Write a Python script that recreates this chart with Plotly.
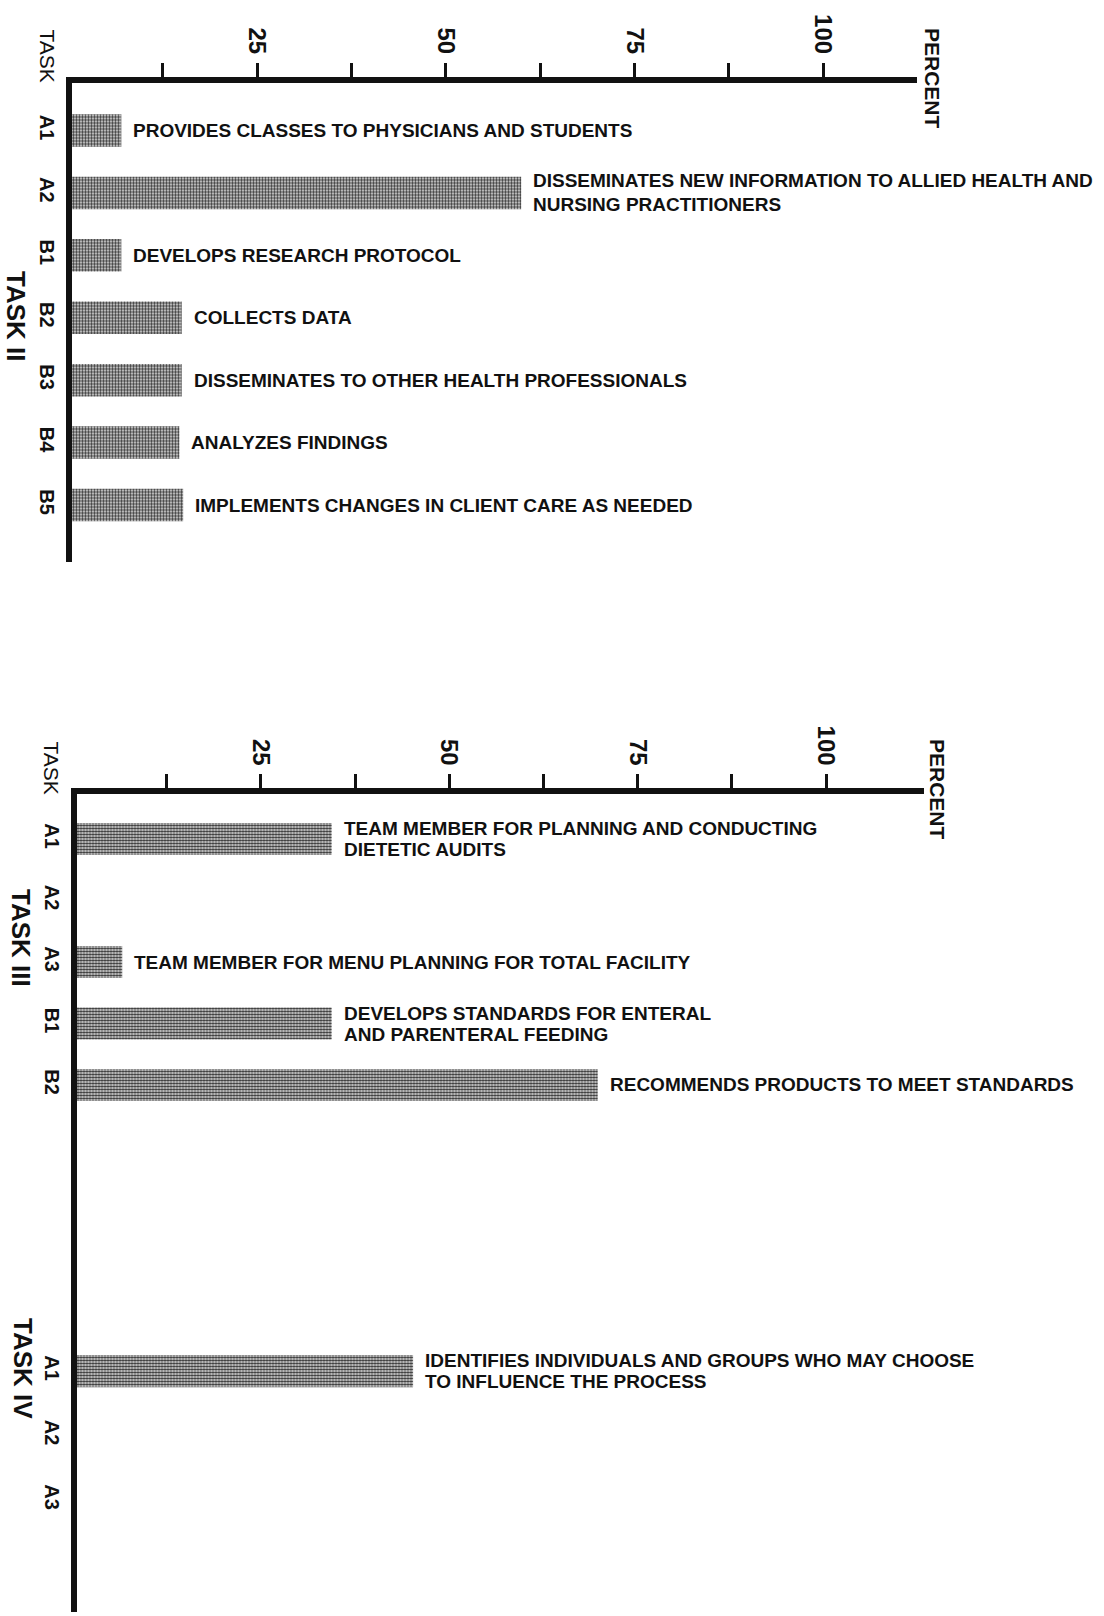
import plotly.graph_objects as go

# ---------------- data ----------------
task2_codes = ["A1", "A2", "B1", "B2", "B3", "B4", "B5"]
task2_values = [7, 60, 7, 15, 15, 14.7, 15.2]
task2_labels = [
    "PROVIDES CLASSES TO PHYSICIANS AND STUDENTS",
    "DISSEMINATES NEW INFORMATION TO ALLIED HEALTH AND\nNURSING PRACTITIONERS",
    "DEVELOPS RESEARCH PROTOCOL",
    "COLLECTS DATA",
    "DISSEMINATES TO OTHER HEALTH PROFESSIONALS",
    "ANALYZES FINDINGS",
    "IMPLEMENTS CHANGES IN CLIENT CARE AS NEEDED",
]

task3_codes = ["A1", "A2", "A3", "B1", "B2"]
task3_values = [34.4, None, 6.6, 34.4, 69.7]
task3_labels = [
    "TEAM MEMBER FOR PLANNING AND CONDUCTING\nDIETETIC AUDITS",
    "",
    "TEAM MEMBER FOR MENU PLANNING FOR TOTAL FACILITY",
    "DEVELOPS STANDARDS FOR ENTERAL\nAND PARENTERAL FEEDING",
    "RECOMMENDS PRODUCTS TO MEET STANDARDS",
]

task4_codes = ["A1", "A2", "A3"]
task4_values = [45.2, None, None]
task4_labels = [
    "IDENTIFIES INDIVIDUALS AND GROUPS WHO MAY CHOOSE\nTO INFLUENCE THE PROCESS",
    "",
    "",
]

tick_vals = [12.5, 25, 37.5, 50, 62.5, 75, 87.5, 100]
tick_text = ["", "25", "", "50", "", "75", "", "100"]

# ---------------- styling ----------------
W, H = 1104, 1616
FONT = "Liberation Sans, Arial, Helvetica, sans-serif"
BLACK = "#111111"

def px_x(p):
    return p / W

def px_y(p):
    return 1 - p / H

bar_pattern = dict(shape=".", size=3, solidity=0.55, fgcolor="#303030",
                   bgcolor="#ececec", fillmode="replace")

fig = go.Figure()

def add_bars(codes, values, xa, ya, width):
    fig.add_trace(go.Bar(
        x=values, y=codes, orientation="h", xaxis=xa, yaxis=ya,
        width=width, base=0,
        marker=dict(color="#ececec", line=dict(width=0), pattern=bar_pattern),
        hoverinfo="skip", showlegend=False,
    ))

add_bars(task2_codes, task2_values, "x", "y", 0.52)
add_bars(task3_codes, task3_values, "x2", "y2", 0.52)
add_bars(task4_codes, task4_values, "x2", "y3", 0.5)

annotations = []

def add_labels(codes, values, labels, xref, yref, lh):
    for c, v, lab in zip(codes, values, labels):
        if v is None or not lab:
            continue
        lines = lab.split("\n")
        n = len(lines)
        for i, ln in enumerate(lines):
            annotations.append(dict(
                x=v, y=c, xref=xref, yref=yref, text=f"<b>{ln}</b>", showarrow=False,
                xanchor="left", yanchor="middle", xshift=10,
                yshift=((n - 1) / 2 - i) * lh,
                font=dict(family=FONT, size=19, color=BLACK),
            ))

add_labels(task2_codes, task2_values, task2_labels, "x", "y", 24)
add_labels(task3_codes, task3_values, task3_labels, "x2", "y2", 21)
add_labels(task4_codes, task4_values, task4_labels, "x2", "y3", 21)

def page_text(text, cx, cy, size, bold=True):
    annotations.append(dict(
        x=px_x(cx), y=px_y(cy), xref="paper", yref="paper",
        text=f"<b>{text}</b>" if bold else text, showarrow=False,
        textangle=90, xanchor="center", yanchor="middle",
        font=dict(family=FONT, size=size, color=BLACK),
    ))

page_text("TASK", 47.5, 56, 21, bold=False)
page_text("PERCENT", 933, 78, 21)
page_text("TASK II", 16, 316, 26)
page_text("TASK", 51.5, 768, 21, bold=False)
page_text("PERCENT", 937, 789, 21)
page_text("TASK III", 21, 938, 26)
page_text("TASK IV", 23, 1368, 26)

def xaxis_cfg(dom, rng, anchor):
    return dict(
        domain=dom, range=rng, anchor=anchor, side="top", automargin=False,
        showline=True, linewidth=6, linecolor=BLACK,
        ticks="outside", ticklen=14, tickwidth=3, tickcolor=BLACK,
        tickvals=tick_vals, ticktext=tick_text, tickangle=90,
        tickfont=dict(family=FONT, size=24, color=BLACK, weight="bold"),
        showgrid=False, zeroline=False, fixedrange=True,
    )

def yaxis_cfg(dom, rng, anchor, cats):
    return dict(
        domain=dom, range=rng, anchor=anchor, type="category", automargin=False,
        categoryorder="array", categoryarray=cats,
        showline=True, linewidth=6, linecolor=BLACK,
        ticks="", tickangle=90, ticklabelstandoff=2,
        tickfont=dict(family=FONT, size=20, color=BLACK, weight="bold"),
        showgrid=False, zeroline=False, fixedrange=True,
    )

# top panel: value 0 at x=68.5px, 7.545 px per percent; plot area starts right of axis line
top_left, top_right = 72.0, 917.3
top_rng = [(top_left - 68.5) / 7.545, (top_right - 68.5) / 7.545]
# bottom panel: value 0 at x=72.5px, 7.535 px per percent
bot_left, bot_right = 76.5, 924.0
bot_rng = [(bot_left - 72.5) / 7.535, (bot_right - 72.5) / 7.535]

fig.update_layout(
    width=W, height=H,
    margin=dict(l=0, r=0, t=0, b=0, pad=0),
    paper_bgcolor="white", plot_bgcolor="white",
    xaxis=xaxis_cfg([top_left / W, top_right / W], top_rng, "y"),
    yaxis=yaxis_cfg([px_y(562), px_y(82.5)], [6.913, -0.769], "x", task2_codes),
    xaxis2=xaxis_cfg([bot_left / W, bot_right / W], bot_rng, "y2"),
    yaxis2=yaxis_cfg([px_y(1230), px_y(794)], [6.358, -0.732], "x2", task3_codes),
    yaxis3=yaxis_cfg([px_y(1612), px_y(1230)], [3.736, -2.186], "x2", task4_codes),
    annotations=annotations,
)

fig.write_html("out.html", config={"displayModeBar": False},
               post_script="document.body.style.margin='0';")
